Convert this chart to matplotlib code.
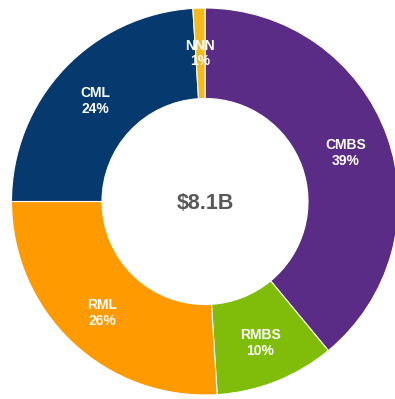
import numpy as np
import matplotlib
matplotlib.use("Agg")
import matplotlib.pyplot as plt

plt.rcParams["font.family"] = ["Liberation Sans", "DejaVu Sans"]

# Portfolio mix by segment, in percent of total
segments = ["CMBS", "RMBS", "RML", "CML", "NNN"]
shares = [39, 10, 26, 24, 1]
colors = ["#5B2C86", "#80BC0A", "#FF9A00", "#063A6E", "#F6B81A"]
total_label = "$8.1B"

fig = plt.figure(figsize=(3.95, 3.99), dpi=100)
ax = fig.add_axes([0, 0, 1, 1])

outer = 193.5
inner = 103
wedges, _ = ax.pie(shares, colors=colors, startangle=90, counterclock=False,
                   radius=outer, center=(0, 0),
                   wedgeprops=dict(width=outer - inner, edgecolor="white", linewidth=0.8))

# Segment labels sit in the middle of the ring
label_r = 150
for w, name, pct in zip(wedges, segments, shares):
    mid = np.deg2rad((w.theta1 + w.theta2) / 2)
    x, y = label_r * np.cos(mid), label_r * np.sin(mid)
    ax.text(x, y - 2, f"{name}\n{pct}%", ha="center", va="center", color="white",
            fontsize=10, fontweight="bold", linespacing=1.15)

ax.text(0, -2, total_label, ha="center", va="center", color="#595959",
        fontsize=15.5, fontweight="bold")

ax.set_xlim(-205, 190)
ax.set_ylim(-197.5, 201.5)
ax.set_aspect("equal")
ax.axis("off")

fig.savefig("out.png", dpi=100)
